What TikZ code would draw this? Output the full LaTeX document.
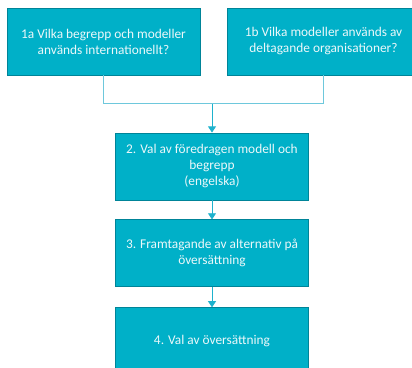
\documentclass[tikz,border=0pt]{standalone}
\usepackage{fontspec}
\setmainfont{Carlito}
\usetikzlibrary{positioning,arrows.meta}

\definecolor{boxfill}{RGB}{0,176,200}
\definecolor{boxline}{RGB}{0,132,152}
\definecolor{linkline}{RGB}{110,200,220}
\definecolor{arrowline}{RGB}{30,178,205}
\definecolor{boxtext}{RGB}{236,248,250}

\begin{document}
\begin{tikzpicture}
	[auto,node distance=0.38cm,]
	\tikzstyle{stage}=[rectangle, draw=boxline, fill=boxfill, line width=0.5pt,
		minimum width=3.86cm, minimum height=1.34cm, align=center,
		text=boxtext, font=\fontsize{7.6}{9.1}\selectfont];
	\tikzstyle{link}=[draw=linkline, line width=0.5pt];
	\tikzstyle{flow}=[draw=arrowline, line width=0.5pt,
		-{Triangle[width=4.5pt,length=3.5pt]}];

	\useasboundingbox (0,0) rectangle (8.24,-7.34);
	\clip (0,0) rectangle (8.24,-7.34);

	\node[stage] (Intl) at (2.07,-0.83) {1a Vilka begrepp och modeller\\används internationellt?};
	\node[stage] (Orgs) at (6.47,-0.83) {1b Vilka modeller används av\\deltagande organisationer?};
	\node[stage] (Model) at (4.24,-3.33) {2. Val av föredragen modell och\\begrepp\\(engelska)};
	\node[stage] (Alt) [below=of Model] {3. Framtagande av alternativ på\\översättning};
	\node[stage] (Pick) [below=0.4cm of Alt] {4. Val av översättning};

	\coordinate[above=0.58cm of Model.north] (Join);

	\path[link] (Intl.south) |- (Join) -| (Orgs.south);
	\path
	(Join) edge[flow] (Model)
	(Model) edge[flow] (Alt)
	(Alt) edge[flow] (Pick);

\end{tikzpicture}
\end{document}
